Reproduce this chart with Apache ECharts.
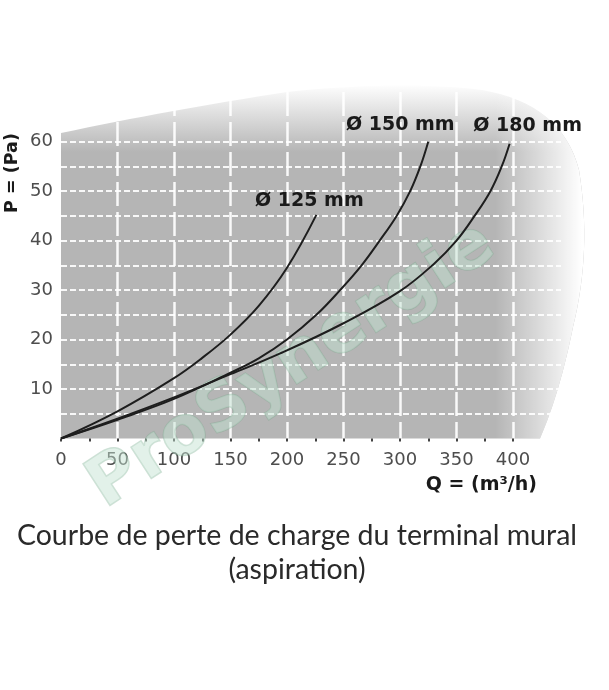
<!DOCTYPE html>
<html>
<head>
<meta charset="utf-8">
<script src="https://cdn.jsdelivr.net/npm/echarts@6/dist/echarts.min.js"></script>
<style>
html,body{margin:0;padding:0;background:#fff;}
#chart{width:609px;height:690px;}
</style>
</head>
<body>
<div id="chart"></div>
<script>
// ---- data ----
const xTicks = [0, 50, 100, 150, 200, 250, 300, 350, 400];
const yTicks = [10, 20, 30, 40, 50, 60];

const q125 = [0, 50, 100, 125, 150, 175, 200, 226];
const p125 = [0, 5.5, 12.2, 16.3, 21, 26.8, 34.5, 45.2];

const q150 = [0, 50, 100, 150, 175, 200, 226, 247, 266, 282, 297, 309, 318, 325];
const p150 = [0, 3.8, 8, 13.3, 16.2, 20, 25, 30, 35, 40, 45, 50, 55, 60];

const q180 = [0, 50, 100, 150, 194, 250, 300, 330, 350, 366, 380, 390, 397];
const p180 = [0, 4, 8.3, 13, 17.2, 23.3, 29.8, 35.3, 40, 45, 50, 55, 59.6];

const seriesNames = ['Ø 125 mm', 'Ø 150 mm', 'Ø 180 mm'];
const titleText = 'Courbe de perte de charge du terminal mural\n(aspiration)';
const xName = 'Q = (m³/h)';
const yName = 'P = (Pa)';
const watermark = 'ProSynergie';

// ---- chart ----
const chart = echarts.init(document.getElementById('chart'), null, {renderer: 'canvas'});

function buildData(qs, ps, labelOffset) {
  return qs.map((q, i) => {
    const item = {value: [q, ps[i]]};
    if (i === qs.length - 1) {
      item.label = {show: true, position: 'inside', offset: labelOffset};
    }
    return item;
  });
}

const labelStyle = {
  color: '#1a1a1a', fontSize: 19, fontWeight: 'bold',
  fontFamily: 'DejaVu Sans', align: 'center', verticalAlign: 'middle'
};

function lineSeries(name, qs, ps, off) {
  return {
    type: 'line', name: name, xAxisIndex: 0, yAxisIndex: 0,
    data: buildData(qs, ps, off),
    smooth: 0.4,
    showSymbol: true, symbol: 'circle', symbolSize: 0,
    lineStyle: {color: '#1e1e1e', width: 2},
    itemStyle: {color: '#1e1e1e'},
    label: Object.assign({show: false, formatter: name}, labelStyle),
    emphasis: {disabled: true},
    silent: true, z: 5
  };
}

// decorative background outline (pixel space), sampled from quadratic curves
function quad(p0, c, p1, n) {
  const pts = [];
  for (let i = 1; i <= n; i++) {
    const t = i / n, u = 1 - t;
    pts.push([u * u * p0[0] + 2 * u * t * c[0] + t * t * p1[0],
              u * u * p0[1] + 2 * u * t * c[1] + t * t * p1[1]]);
  }
  return pts;
}
function outline() {
  let pts = [[61, 438.5], [61, 133]];
  const segs = [
    [[170, 110], [287, 92]],
    [[400, 80], [482, 90]],
    [[562, 104], [579, 170]],
    [[592, 250], [573, 327]],
    [[560, 392], [540, 438.5]]
  ];
  let cur = [61, 133];
  segs.forEach(s => { pts = pts.concat(quad(cur, s[0], s[1], 16)); cur = s[1]; });
  return pts;
}
const shapePts = outline();

const option = {
  animation: false,
  backgroundColor: '#ffffff',
  title: {
    text: titleText,
    left: 297,
    top: 519,
    padding: 0,
    textAlign: 'center',
    textStyle: {
      fontFamily: 'Lato', fontWeight: 'normal', fontSize: 28.5,
      color: '#2a2a2a', lineHeight: 34
    }
  },
  grid: [
    {left: 61, top: 141.7, width: 452, height: 296.8},
    {left: 61, top: 141.7, width: 500, height: 296.8},
    {left: 61, top: 92, width: 452, height: 346.5}
  ],
  xAxis: [
    {
      gridIndex: 0, type: 'value', min: 0, max: 400, interval: 50,
      axisLine: {show: false},
      axisTick: {show: true, length: 3, lineStyle: {color: '#444', width: 2}},
      minorTick: {show: true, splitNumber: 2, length: 3, lineStyle: {color: '#444', width: 2}},
      splitLine: {show: false},
      axisLabel: {
        color: '#4d4d4d', fontSize: 18, fontFamily: 'DejaVu Sans', margin: 13,
        formatter: v => xTicks.includes(v) ? String(v) : ''
      },
      name: xName, nameLocation: 'end', nameGap: 24,
      nameTextStyle: {
        color: '#1a1a1a', fontSize: 19, fontWeight: 'bold', fontFamily: 'DejaVu Sans',
        align: 'right', verticalAlign: 'top', padding: [37, 0, 0, 0]
      }
    },
    {gridIndex: 1, type: 'value', min: 0, max: 1, show: false},
    {
      gridIndex: 2, type: 'value', min: 0, max: 400, interval: 50,
      axisLine: {show: false}, axisTick: {show: false}, axisLabel: {show: false},
      splitLine: {
        show: true, showMinLine: false,
        lineStyle: {color: 'rgba(255,255,255,0.92)', width: 2.5, type: [24, 6]}
      }
    }
  ],
  yAxis: [
    {
      gridIndex: 0, type: 'value', min: 0, max: 60, interval: 10,
      axisLine: {show: false}, axisTick: {show: false}, splitLine: {show: false},
      axisLabel: {
        color: '#4d4d4d', fontSize: 18, fontFamily: 'DejaVu Sans', margin: 8,
        formatter: v => yTicks.includes(v) ? String(v) : ''
      }
    },
    {
      gridIndex: 1, type: 'value', min: 0, max: 60, interval: 5,
      axisLine: {show: false}, axisTick: {show: false}, axisLabel: {show: false},
      splitLine: {
        show: true, showMinLine: false,
        lineStyle: {color: 'rgba(255,255,255,0.9)', width: 2, type: [6, 3]}
      }
    },
    {gridIndex: 2, type: 'value', min: 0, max: 70, show: false}
  ],
  graphic: {
    elements: [
      {
        type: 'polygon', z: -20, silent: true,
        shape: {points: shapePts},
        style: {
          fill: {
            type: 'linear', x: 0, y: 84, x2: 0, y2: 152, global: true,
            colorStops: [{offset: 0, color: '#ffffff'}, {offset: 1, color: '#b5b5b5'}]
          }
        }
      },
      {
        type: 'polygon', z: -19, silent: true,
        shape: {points: shapePts},
        style: {
          fill: {
            type: 'linear', x: 495, y: 0, x2: 582, y2: 0, global: true,
            colorStops: [{offset: 0, color: 'rgba(255,255,255,0)'}, {offset: 1, color: 'rgba(255,255,255,1)'}]
          }
        }
      },
      {
        type: 'text', z: 1, silent: true,
        x: 292, y: 366, rotation: 33 * Math.PI / 180,
        style: {
          text: watermark, fontSize: 68, fontWeight: 'bold', fontFamily: 'DejaVu Sans',
          fill: 'rgba(195,226,208,0.48)', stroke: 'rgba(120,168,140,0.35)', lineWidth: 1.5,
          align: 'center', verticalAlign: 'middle'
        }
      },
      {
        type: 'text', z: 10, silent: true,
        x: 12, y: 173, rotation: Math.PI / 2,
        style: {
          text: yName, fontSize: 17.5, fontWeight: 'bold', fontFamily: 'DejaVu Sans',
          fill: '#1a1a1a', align: 'center', verticalAlign: 'middle'
        }
      }
    ]
  },
  series: [
    lineSeries(seriesNames[0], q125, p125, [-7, -14]),
    lineSeries(seriesNames[1], q150, p150, [-28, -17]),
    lineSeries(seriesNames[2], q180, p180, [18, -18])
  ]
};

chart.setOption(option);
</script>
</body>
</html>
